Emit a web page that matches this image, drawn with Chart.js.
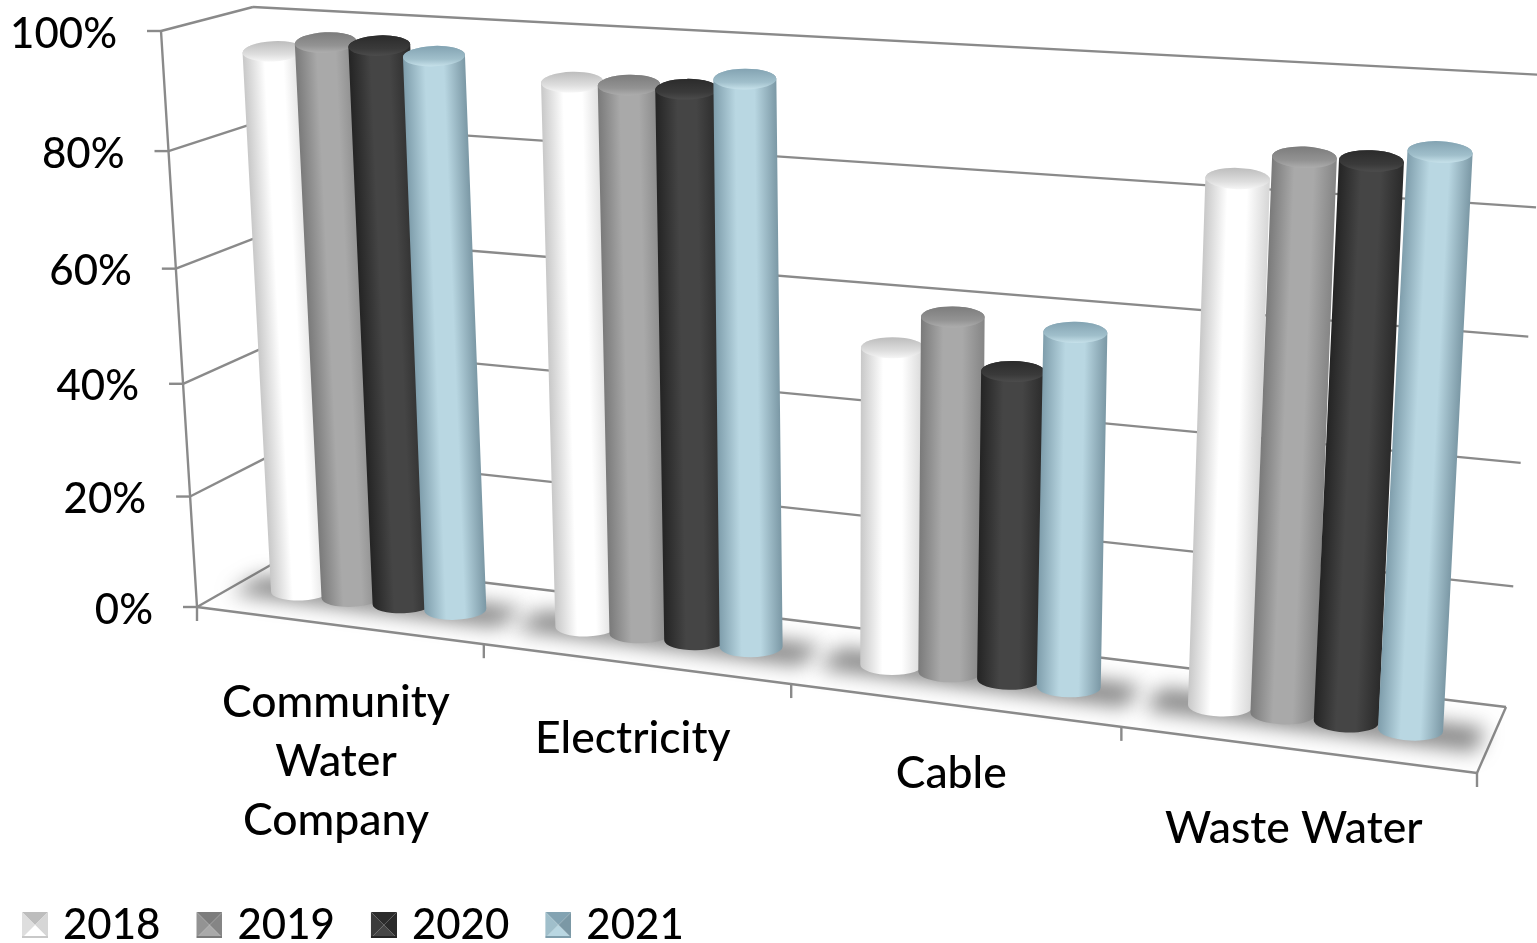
<!DOCTYPE html>
<html>
<head>
<meta charset="utf-8">
<title>Chart</title>
<script src="https://cdn.jsdelivr.net/npm/chart.js@4"></script>
<style>
  html, body { margin: 0; padding: 0; background: #fff; overflow: hidden; }
  canvas { display: block; }
</style>
</head>
<body>
<canvas id="chart" width="1537" height="943"></canvas>
<script>
// Data (percent)
const categories = [['Community', 'Water', 'Company'], 'Electricity', 'Cable', 'Waste Water'];
const years = ['2018', '2019', '2020', '2021'];
const values2018 = [95.2, 93.1, 53.6, 84.7];
const values2019 = [97.2, 93.2, 59.5, 88.6];
const values2020 = [97.2, 93.1, 51.5, 88.7];
const values2021 = [96, 95.3, 58.7, 90.7];

// Cylinder shading: edge, middle, other edge, then lid dark, lid light, lid rim
const shades = [
    ['#c8c8c8', '#ffffff', '#d6d6d6', '#bdbdbd', '#dedede', '#f6f6f6'],
    ['#7a7a7a', '#a9a9a9', '#858585', '#7c7c7c', '#939393', '#adadad'],
    ['#242424', '#454545', '#2a2a2a', '#2b2b2b', '#3a3a3a', '#4c4c4c'],
    ['#7f9eac', '#b9d7e2', '#7b98a5', '#83a3b2', '#a0bfcb', '#c6e1ea']
];

// The 3D box as seen on screen: bottom-left, bottom-right, top-right, top-left
const frontPlane = [[197, 607], [1477, 773], [1515, 113], [161, 31]];
const backPlane = [[283, 558], [1506, 707], [1544, 75], [253, 7]];
const barDepth = 0.5;
const lineColor = '#8a8a8a';
const axisFont = '500 42px Lato';
const categoryFont = '500 44.5px Lato';
const legendSize = 42;
const labelDrop = [136, 75, 69, 79]; // Excel does not place these evenly

function planeMapper(q) {
    const dx1 = q[1][0] - q[2][0], dx2 = q[3][0] - q[2][0], dx3 = q[0][0] - q[1][0] + q[2][0] - q[3][0];
    const dy1 = q[1][1] - q[2][1], dy2 = q[3][1] - q[2][1], dy3 = q[0][1] - q[1][1] + q[2][1] - q[3][1];
    const den = dx1 * dy2 - dx2 * dy1;
    const g = (dx3 * dy2 - dx2 * dy3) / den;
    const h = (dx1 * dy3 - dx3 * dy1) / den;
    const a = q[1][0] - q[0][0] + g * q[1][0], b = q[3][0] - q[0][0] + h * q[3][0];
    const d = q[1][1] - q[0][1] + g * q[1][1], e = q[3][1] - q[0][1] + h * q[3][1];
    return function(u, v) {
        const w = g * u + h * v + 1;
        return [(a * u + b * v + q[0][0]) / w, (d * u + e * v + q[0][1]) / w];
    };
}
const mapFront = planeMapper(frontPlane);
const mapBack = planeMapper(backPlane);

// u, v are 0..1 across the chart area, depth 0 = front, 1 = back
function project(u, v, depth) {
    const f = mapFront(u, v), b = mapBack(u, v);
    return [f[0] + (b[0] - f[0]) * depth, f[1] + (b[1] - f[1]) * depth];
}

function strokeLine(ctx, p, q) {
    ctx.beginPath();
    ctx.moveTo(p[0], p[1]);
    ctx.lineTo(q[0], q[1]);
    ctx.stroke();
}

function drawCylinder(ctx, bottom, top, width, shade) {
    const half = width / 2, ry = half * 0.33;
    const len = Math.hypot(top[0] - bottom[0], top[1] - bottom[1]);
    const ax = (top[0] - bottom[0]) / len, ay = (top[1] - bottom[1]) / len;
    const sign = -ay < 0 ? -1 : 1;
    const ux = -ay * sign, uy = ax * sign; // across the cylinder, pointing right
    const tilt = Math.atan2(uy, ux);

    const bodyFill = ctx.createLinearGradient(bottom[0] - ux * half, bottom[1] - uy * half, bottom[0] + ux * half, bottom[1] + uy * half);
    bodyFill.addColorStop(0, shade[0]);
    bodyFill.addColorStop(0.35, shade[1]);
    bodyFill.addColorStop(0.65, shade[1]);
    bodyFill.addColorStop(1, shade[2]);

    ctx.beginPath();
    ctx.moveTo(top[0] - ux * half, top[1] - uy * half);
    ctx.lineTo(bottom[0] - ux * half, bottom[1] - uy * half);
    ctx.ellipse(bottom[0], bottom[1], half, ry, tilt, Math.PI, 0, true);
    ctx.lineTo(top[0] + ux * half, top[1] + uy * half);
    ctx.ellipse(top[0], top[1], half, ry, tilt, 0, Math.PI, true);
    ctx.closePath();
    ctx.fillStyle = bodyFill;
    ctx.fill();

    const lid = ctx.createLinearGradient(top[0], top[1] - ry, top[0], top[1] + ry);
    lid.addColorStop(0, shade[3]);
    lid.addColorStop(0.65, shade[4]);
    lid.addColorStop(1, shade[5]);
    ctx.beginPath();
    ctx.ellipse(top[0], top[1], half, ry, tilt, 0, Math.PI * 2);
    ctx.fillStyle = lid;
    ctx.fill();
}

const box3dPlugin = {
    id: 'box3d',
    beforeDatasetsDraw(chart) {
        const ctx = chart.ctx;
        const area = chart.chartArea;
        const xScale = chart.scales.x, yScale = chart.scales.y;
        const uOf = x => (x - area.left) / area.width;
        const vOf = y => (area.bottom - y) / area.height;
        const catCount = xScale.ticks.length;

        ctx.save();
        ctx.strokeStyle = lineColor;
        ctx.lineWidth = 2.4;
        ctx.fillStyle = '#000';

        // walls, gridlines and the value ticks
        ctx.font = axisFont;
        yScale.ticks.forEach((tick, i) => {
            const v = vOf(yScale.getPixelForTick(i));
            const front = project(0, v, 0), back = project(0, v, 1);
            strokeLine(ctx, front, back);
            strokeLine(ctx, back, project(1, v, 1));
            strokeLine(ctx, front, [front[0] - 14, front[1]]);
            ctx.textAlign = 'right';
            ctx.textBaseline = 'middle';
            ctx.fillText(tick.label, front[0] - 44, front[1] + 3);
        });
        strokeLine(ctx, project(0, 0, 0), project(0, 1, 0));

        // floor edges
        strokeLine(ctx, project(1, 0, 0), project(1, 0, 1));

        // soft shadows on the floor
        ctx.save();
        ctx.filter = 'blur(10px)';
        ctx.fillStyle = 'rgba(85,85,85,0.72)';
        for (let i = 0; i < catCount; i++) {
            const c = (i + 0.5) / catCount, w = 0.47 / catCount;
            const pts = [project(c - w, 0, 0.3), project(c + w, 0, 0.3), project(c + w, 0, 0.66), project(c - w, 0, 0.66)];
            ctx.beginPath();
            pts.forEach((p, k) => k ? ctx.lineTo(p[0], p[1]) : ctx.moveTo(p[0], p[1]));
            ctx.closePath();
            ctx.fill();
        }
        ctx.restore();

        strokeLine(ctx, project(0, 0, 0), project(1, 0, 0));

        // category ticks and labels
        for (let i = 0; i <= catCount; i++) {
            const p = project(i / catCount, 0, 0);
            strokeLine(ctx, p, [p[0], p[1] + 14]);
        }
        ctx.font = categoryFont;
        ctx.textAlign = 'center';
        xScale.ticks.forEach((tick, i) => {
            const p = project(uOf(xScale.getPixelForTick(i)), 0, 0);
            const lines = Array.isArray(tick.label) ? tick.label : [tick.label];
            lines.forEach((line, k) => {
                const off = (k - (lines.length - 1) / 2) * 59;
                ctx.fillText(line, p[0] - 2, p[1] + labelDrop[i] + off);
            });
        });

        // cylinders, later series on top
        chart.data.datasets.forEach((ds, di) => {
            const meta = chart.getDatasetMeta(di);
            meta.data.forEach(bar => {
                const u = uOf(bar.x);
                const hw = bar.width / 2 / area.width;
                const b = project(u, vOf(bar.base), barDepth);
                const t = project(u, vOf(bar.y), barDepth);
                const l = project(u - hw, vOf(bar.base), barDepth);
                const r = project(u + hw, vOf(bar.base), barDepth);
                const stepWidth = r[0] - l[0];
                drawCylinder(ctx, b, t, stepWidth * 0.25 + 49, shades[di]);
            });
        });
        ctx.restore();
        return false;
    }
};

// Bevelled legend swatch, drawn with a blank left margin so it sits like the original
function makeSwatch(shade) {
    const c = document.createElement('canvas');
    c.width = 34;
    c.height = 26;
    const g = c.getContext('2d');
    const x0 = 8, x1 = 34, y0 = 0, y1 = 26, mx = 21, my = 13;
    const tri = (color, a, b) => {
        g.fillStyle = color;
        g.beginPath();
        g.moveTo(a[0], a[1]);
        g.lineTo(b[0], b[1]);
        g.lineTo(mx, my);
        g.closePath();
        g.fill();
    };
    tri(shade[3], [x0, y0], [x1, y0]);
    tri(shade[2], [x1, y0], [x1, y1]);
    tri(shade[1], [x1, y1], [x0, y1]);
    tri(shade[4], [x0, y1], [x0, y0]);
    g.fillStyle = shade[0];
    g.fillRect(x0, y1 - 2, x1 - x0, 2);
    return c;
}
const swatches = shades.map(makeSwatch);

Chart.defaults.font.family = 'Lato';

const seriesValues = [values2018, values2019, values2020, values2021];
new Chart(document.getElementById('chart').getContext('2d'), {
    type: 'bar',
    plugins: [box3dPlugin],
    data: {
        labels: categories,
        datasets: years.map((year, i) => ({
            label: year,
            data: seriesValues[i],
            backgroundColor: shades[i][1],
            categoryPercentage: 0.73,
            barPercentage: 1
        }))
    },
    options: {
        responsive: false,
        animation: false,
        layout: { padding: { left: -14, bottom: -13 } },
        scales: {
            x: { display: false },
            y: {
                display: false,
                min: 0,
                max: 100,
                ticks: { stepSize: 20, callback: value => value + '%' }
            }
        },
        plugins: {
            tooltip: { enabled: false },
            legend: {
                position: 'bottom',
                align: 'start',
                labels: {
                    color: '#000',
                    font: { size: legendSize, family: 'Lato', weight: '500' },
                    usePointStyle: true,
                    pointStyleWidth: 22,
                    padding: 34,
                    generateLabels: chart => chart.data.datasets.map((ds, i) => ({
                        text: ds.label,
                        pointStyle: swatches[i],
                        fillStyle: ds.backgroundColor,
                        lineWidth: 0,
                        datasetIndex: i,
                        fontColor: '#000'
                    }))
                }
            }
        }
    }
});
</script>
</body>
</html>
